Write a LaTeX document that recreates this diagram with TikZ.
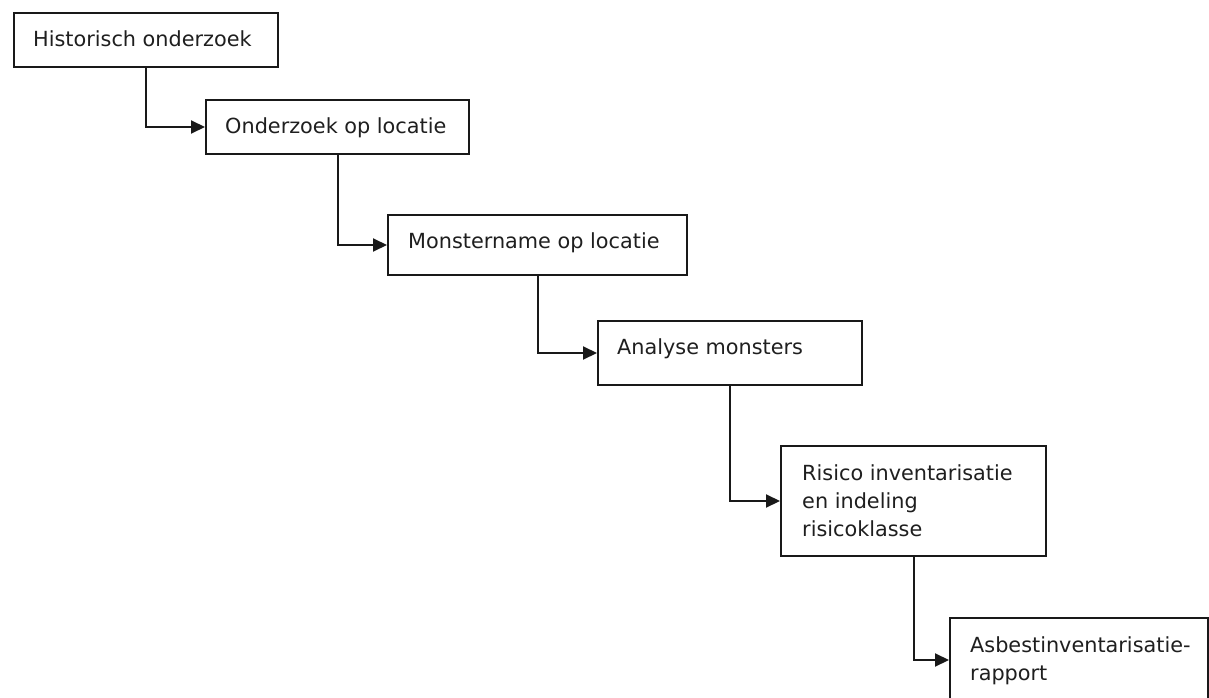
\documentclass[tikz,border=0pt]{standalone}
\usepackage{fontspec}
\setmainfont{DejaVu Sans}
\usetikzlibrary{arrows.meta}
\begin{document}
\begin{tikzpicture}[x=1pt,y=-1pt,
  stepbox/.style={draw=black!90, line width=2pt, fill=white, rectangle, inner sep=0pt, anchor=north west},
  lbl/.style={anchor=base west, inner sep=0pt, align=left, font=\fontsize{20.8}{28}\selectfont, text=black!88},
  conn/.style={draw=black!90, line width=2pt, -{Triangle[length=14pt,width=13pt]}}]
\useasboundingbox (0,0) rectangle (1209,698);
\node[stepbox, minimum width=264pt, minimum height=54pt] (b1) at (13,12) {};
\node[stepbox, minimum width=263pt, minimum height=54pt] (b2) at (205,99) {};
\node[stepbox, minimum width=299pt, minimum height=60pt] (b3) at (387,214) {};
\node[stepbox, minimum width=264pt, minimum height=64pt] (b4) at (597,320) {};
\node[stepbox, minimum width=265pt, minimum height=110pt] (b5) at (780,445) {};
\node[stepbox, minimum width=258pt, minimum height=84pt] (b6) at (949,617) {};
\node[lbl] (t1) at ([shift={(20,35)}]b1.north west) {Historisch onderzoek};
\node[lbl] (t2) at ([shift={(20,34)}]b2.north west) {Onderzoek op locatie};
\node[lbl] (t3) at ([shift={(21,34)}]b3.north west) {Monstername op locatie};
\node[lbl] (t4) at ([shift={(20,34)}]b4.north west) {Analyse monsters};
\node[lbl] (t5) at ([shift={(22,91)}]b5.north west) {Risico inventarisatie\\en indeling\\risicoklasse};
\node[lbl] (t6) at ([shift={(21,63)}]b6.north west) {Asbestinventarisatie-\\rapport};
\draw[conn] (b1.south) |- (b2.west);
\draw[conn] (b2.south) |- (b3.west);
\draw[conn] (b3.south) |- (b4.west);
\draw[conn] (b4.south) |- (b5.west);
\draw[conn] (b5.south) |- (b6.west);
\end{tikzpicture}
\end{document}
